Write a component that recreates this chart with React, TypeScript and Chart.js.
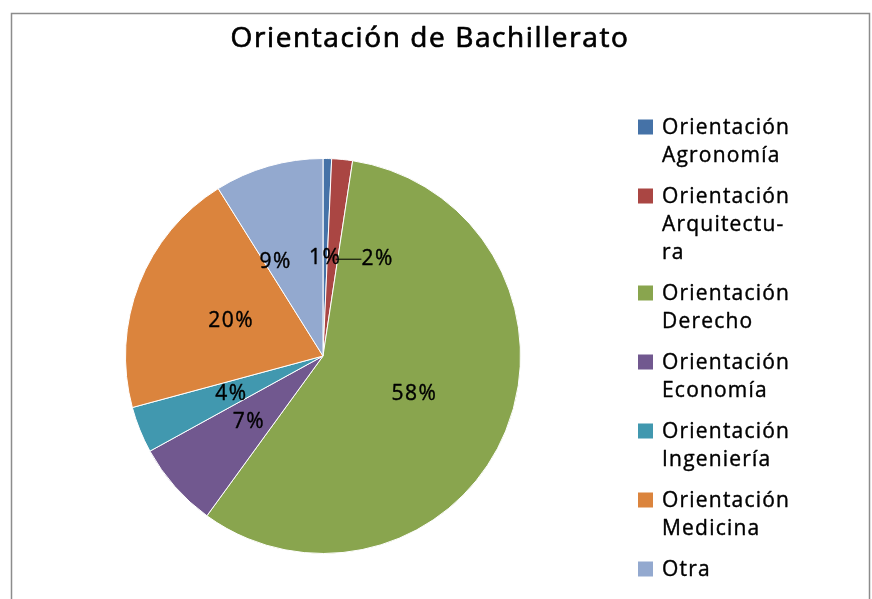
import React, { useEffect, useRef } from "react";
import { Chart, registerables } from "chart.js";

Chart.register(...registerables);

const titleText = "Orientación de Bachillerato";
const categories = [
  "Orientación Agronomía",
  "Orientación Arquitectura",
  "Orientación Derecho",
  "Orientación Economía",
  "Orientación Ingeniería",
  "Orientación Medicina",
  "Otra",
];
const legendLines = [
  ["Orientación", "Agronomía"],
  ["Orientación", "Arquitectu-", "ra"],
  ["Orientación", "Derecho"],
  ["Orientación", "Economía"],
  ["Orientación", "Ingeniería"],
  ["Orientación", "Medicina"],
  ["Otra"],
];
const values = [0.7, 1.7, 57.6, 7.0, 3.8, 20.3, 8.9];
const colors = ["#4572A7", "#AA4643", "#89A54E", "#71588F", "#4198AF", "#DB843D", "#93A9CF"];

const FONT = '"Open Sans", "DejaVu Sans", sans-serif';

const style = {
  labelShiftX: [0, 45, 0, 0, 0, 0, -20],
  leader: [false, true, false, false, false, false, false],
  labelRadius: 0.5,
  legendX: 638,
  legendTextX: 662,
  legendTop: 127,
  legendLine: 28,
  legendGap: 13,
  titleX: 430,
  titleY: 39,
};

function boldText(ctx: CanvasRenderingContext2D, txt: string, x: number, y: number, w: number) {
  ctx.lineWidth = w;
  ctx.strokeStyle = "#000000";
  ctx.lineJoin = "round";
  ctx.strokeText(txt, x, y);
  ctx.fillText(txt, x, y);
}

const decor = {
  id: "decor",
  beforeDraw(chart: any) {
    const ctx = chart.ctx;
    ctx.save();
    ctx.fillStyle = "#ffffff";
    ctx.fillRect(0, 0, chart.width, chart.height);
    ctx.strokeStyle = "#8c8c8c";
    ctx.lineWidth = 1.5;
    ctx.strokeRect(11.5, 13.5, 858, 700);
    ctx.restore();
  },
  afterDatasetsDraw(chart: any) {
    const ctx = chart.ctx;
    const meta = chart.getDatasetMeta(0);
    const data = chart.data.datasets[0].data as number[];
    const total = data.reduce((a, b) => a + b, 0);
    ctx.save();
    // percentage labels
    ctx.font = `21px ${FONT}`;
    (ctx as any).letterSpacing = "1.5px";
    ctx.fillStyle = "#000000";
    ctx.textAlign = "center";
    ctx.textBaseline = "middle";
    meta.data.forEach((arc: any, i: number) => {
      const p = arc.getProps(["x", "y", "startAngle", "endAngle", "outerRadius"], true);
      const mid = (p.startAngle + p.endAngle) / 2;
      const r = p.outerRadius * style.labelRadius;
      const ax = p.x + Math.cos(mid) * r;
      const ay = p.y + Math.sin(mid) * r;
      const lx = ax + style.labelShiftX[i];
      const txt = Math.round((data[i] / total) * 100) + "%";
      if (style.leader[i]) {
        const w = ctx.measureText(txt).width;
        ctx.beginPath();
        ctx.strokeStyle = "#000000";
        ctx.lineWidth = 1;
        ctx.moveTo(ax + 3, ay + 1.5);
        ctx.lineTo(lx - w / 2, ay + 1.5);
        ctx.stroke();
      }
      boldText(ctx, txt, lx, ay + 1, 0.4);
    });
    // legend
    ctx.font = `21px ${FONT}`;
    (ctx as any).letterSpacing = "1.2px";
    ctx.textAlign = "left";
    let y = style.legendTop;
    legendLines.forEach((lines, i) => {
      ctx.fillStyle = colors[i];
      ctx.fillRect(style.legendX, y - 7.5, 15, 15);
      ctx.fillStyle = "#000000";
      lines.forEach((ln, j) => {
        boldText(ctx, ln, style.legendTextX, y + 1 + j * style.legendLine, 0.4);
      });
      y += lines.length * style.legendLine + style.legendGap;
    });
    // title
    ctx.font = `28px ${FONT}`;
    (ctx as any).letterSpacing = "1.6px";
    ctx.textAlign = "center";
    boldText(ctx, titleText, style.titleX, style.titleY, 0.7);
    ctx.restore();
  },
};

export default function App() {
  const ref = useRef<HTMLCanvasElement | null>(null);
  useEffect(() => {
    if (!ref.current) return;
    const chart = new Chart(ref.current, {
      type: "pie",
      data: {
        labels: categories,
        datasets: [
          {
            data: values,
            backgroundColor: colors,
            borderColor: "#ffffff",
            borderWidth: 1,
          },
        ],
      },
      options: {
        animation: false,
        responsive: false,
        rotation: 0,
        layout: { padding: { left: 125, right: 351, top: 158, bottom: 45 } },
        plugins: {
          legend: { display: false },
          title: { display: false },
          tooltip: { enabled: false },
        },
      },
      plugins: [decor],
    });
    return () => chart.destroy();
  }, []);
  return (
    <div style={{ position: "fixed", left: 0, top: 0, width: 872, height: 599, background: "#fff" }}>
      <canvas ref={ref} width={872} height={599} style={{ width: 872, height: 599, display: "block" }} />
    </div>
  );
}
